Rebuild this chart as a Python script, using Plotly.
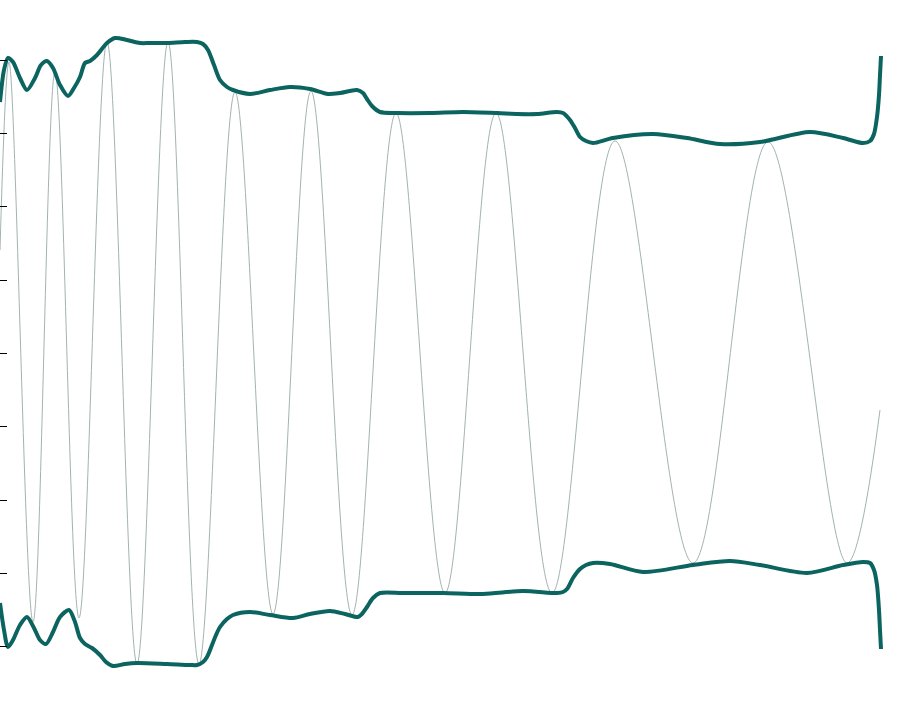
import plotly.graph_objects as go

# px->data: x = px/154, y = (353.5 - py)/73.3
PXX = 154.0
PXY = 73.3
CY = 353.5

# signal extrema (pixel readings, converted below)
sig_px_x = [0, 9, 33, 55, 79, 107, 137, 168, 199, 235, 273, 311, 352, 396, 445, 496, 552, 615, 693, 768, 847, 880]
sig_px_y = [250, 62, 622, 72, 618, 42, 664, 42, 664, 92, 614, 91, 615, 113, 593, 113, 593, 141, 563, 142, 563, 410]

upper_px_x = [0, 4, 8, 13, 20, 27, 35, 41, 47, 53, 60, 68, 74, 80, 85, 90, 97, 107, 115, 127, 140, 150, 167, 185, 197,
              203, 208, 214, 220, 227, 233, 250, 270, 290, 310, 328, 340, 357, 363, 367, 372, 380, 397, 430, 463,
              497, 517, 537, 557, 563, 570, 575, 580, 586, 593, 613, 653, 687, 720, 760, 810, 843, 863, 870, 874,
              877, 879, 880, 881]
upper_px_y = [102, 70, 58, 62, 78, 90, 78, 65, 61, 68, 85, 96, 88, 77, 63, 61, 55, 43, 38, 40, 43, 43, 43, 42, 42,
              44, 50, 65, 80, 87, 90, 94, 90, 87, 89, 94, 93, 90, 93, 99, 106, 112, 113, 113, 112,
              113, 114, 114, 112, 113, 120, 128, 137, 141, 143, 138, 134, 138, 144, 142, 132, 138, 143, 141, 134,
              117, 95, 75, 56]

lower_px_x = [0, 4, 8, 13, 20, 27, 34, 40, 46, 53, 60, 69, 75, 80, 85, 92, 100, 106, 113, 125, 137, 167, 190, 197,
              203, 207, 212, 216, 220, 227, 233, 250, 270, 293, 310, 330, 345, 358, 362, 367, 373, 380, 403, 443,
              483, 523, 557, 563, 567, 573, 580, 586, 593, 610, 643, 693, 730, 760, 807, 843, 863, 870, 874,
              877, 879, 880, 881]
lower_px_y = [603, 630, 647, 640, 625, 617, 628, 640, 644, 632, 617, 610, 622, 638, 644, 648, 655, 662, 666, 664, 663,
              664, 665, 665, 662, 657, 645, 635, 627, 619, 615, 612, 615, 618, 614, 611, 614, 617, 614, 607, 598,
              593, 593, 593, 594, 591, 593, 592, 589, 578, 569, 565, 563, 564, 572, 565, 561, 565, 573, 565, 562,
              563, 570, 585, 610, 630, 649]

def tx(v):
    return [round(p / PXX, 4) for p in v]

def ty(v):
    return [round((CY - p) / PXY, 4) for p in v]

signal_t = tx(sig_px_x)
signal_v = ty(sig_px_y)
upper_t = tx(upper_px_x)
upper_v = ty(upper_px_y)
lower_t = tx(lower_px_x)
lower_v = ty(lower_px_y)

fig = go.Figure()
fig.add_trace(go.Scatter(x=signal_t, y=signal_v, mode="lines",
                         line=dict(color="#a3b3b1", width=1, shape="spline", smoothing=1),
                         showlegend=False, hoverinfo="skip"))
for xs, ys in [(upper_t, upper_v), (lower_t, lower_v)]:
    fig.add_trace(go.Scatter(x=xs, y=ys, mode="lines",
                             line=dict(color="#0b645f", width=4, shape="spline", smoothing=0.8),
                             showlegend=False, hoverinfo="skip"))

fig.update_layout(
    width=907, height=708,
    margin=dict(l=0, r=0, t=0, b=0),
    paper_bgcolor="white", plot_bgcolor="white",
    xaxis=dict(range=[0, 907 / PXX], showgrid=False, zeroline=False, showline=False,
               showticklabels=False, ticks=""),
    yaxis=dict(range=[(CY - 708) / PXY, CY / PXY], showgrid=False, zeroline=False, showline=False,
               showticklabels=False, ticks="inside", ticklen=7, tickwidth=1, tickcolor="black",
               tickmode="linear", tick0=0, dtick=1),
)
fig.write_html("out.html", config={"displayModeBar": False},
               post_script="document.body.style.margin='0px';document.body.style.overflow='hidden';")
